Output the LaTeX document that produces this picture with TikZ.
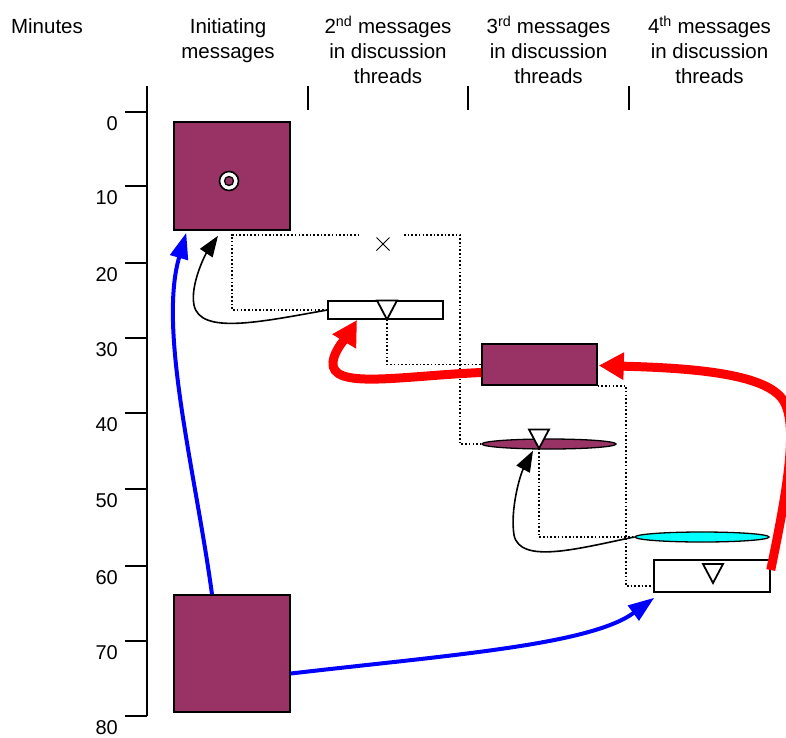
\documentclass[tikz,border=0pt]{standalone}
\usepackage{fontspec}
\setmainfont{Liberation Sans}
\usetikzlibrary{arrows.meta,shapes.geometric,shapes.misc,calc}
\definecolor{plum}{HTML}{993366}
\definecolor{aqua}{RGB}{0,255,255}
\definecolor{pureblue}{RGB}{0,0,255}
\definecolor{purered}{RGB}{255,0,0}
\begin{document}
\begin{tikzpicture}[x=1pt,y=-1pt,
  pbox/.style={draw=black,fill=plum,line width=1.5pt,inner sep=0pt,rectangle},
  wbox/.style={draw=black,fill=white,line width=1.5pt,inner sep=0pt,rectangle},
  pell/.style={draw=black,fill=plum,line width=1.3pt,inner sep=0pt,ellipse},
  cell/.style={draw=black,fill=aqua,line width=1.3pt,inner sep=0pt,ellipse},
  dotline/.style={line width=1.6pt,dash pattern=on 1.6pt off 2.1pt},
  hdr/.style={font=\fontsize{20.5}{25}\selectfont,align=center,anchor=north,inner sep=0pt},
  axisline/.style={line width=1.2pt},
  num/.style={font=\fontsize{20}{24}\selectfont,anchor=east,inner sep=0pt},
  bluearrow/.style={draw=pureblue,line width=4pt,-{Triangle[length=26pt,width=18pt]}},
  redarrow/.style={draw=purered,line width=9pt,-{Triangle[length=25pt,width=26pt]}},
  blackarrow/.style={draw=black,line width=1.6pt,-{Triangle[length=21pt,width=15pt]}},
  tri/.pic={\draw[fill=white,line width=1.8pt,line join=miter] (-10,-9.5) -- (10,-9.5) -- (0,9.5) -- cycle;}
]
\useasboundingbox (0,0) rectangle (786,737);

% header
\node[hdr] (h0) at (47,15.5) {\strut Minutes};
\node[hdr] (h1) at (228,15.5) {\strut Initiating\\messages};
\node[hdr] (h2) at (388,15.5) {\strut 2\textsuperscript{nd} messages\\in discussion\\threads};
\node[hdr] (h3) at (548.5,15.5) {\strut 3\textsuperscript{rd} messages\\in discussion\\threads};
\node[hdr] (h4) at (709.5,15.5) {\strut 4\textsuperscript{th} messages\\in discussion\\threads};
\foreach \x in {308,468,629} \draw[axisline] (\x,86) -- (\x,110);

% axis
\draw[axisline] (147,86) -- (147,716);
\foreach \y/\l in {112/0,186/10,263/20,338/30,413/40,489/50,566/60,641/70,716/80} {
  \draw[axisline] (125,\y) -- (147,\y);
  \node[num] (n\l) at (118,\y+11.5) {\l};
}

% messages
\node[pbox,minimum width=116pt,minimum height=108pt] (A) at (232,176) {};
\node[pbox,minimum width=116pt,minimum height=117pt] (B) at (232,653.5) {};
\node[wbox,minimum width=115pt,minimum height=18pt] (C) at (385.5,310) {};
\node[pbox,minimum width=115pt,minimum height=41pt] (D) at (539.5,364.5) {};
\node[pell,minimum width=134pt,minimum height=10pt] (E) at (549,444) {};
\node[cell,minimum width=134pt,minimum height=10pt] (G) at (702,537) {};
\node[wbox,minimum width=116pt,minimum height=32pt] (F) at (712,576) {};

% symbols
\node[circle,draw,fill=white,line width=1.6pt,minimum size=19pt,inner sep=0pt] (S) at (229,181) {};
\node[circle,draw,fill=plum,line width=1.3pt,minimum size=9pt,inner sep=0pt] (S2) at (S) {};
\coordinate (T1) at (387,310);
\coordinate (T1tip) at (387,319.5);
\coordinate (T2) at (539,439);
\coordinate (T2tip) at (539,448.5);
\coordinate (T3) at (713,573.5);
\node[draw,cross out,line width=1pt,minimum size=12pt,inner sep=0pt] (X) at (383,244) {};

% dotted links
\draw[dotline] (C.west) -| (232,235) -- (360,235);
\draw[dotline] (404,235) -| (460,444) -- (E.west);
\draw[dotline] (T1tip) |- (D.west);
\draw[dotline] (D.south east) -| (626,586) -- (654,586);
\draw[dotline] (T2tip) |- (G.west);

\pic at (T1) {tri};
\pic at (T2) {tri};
\pic at (T3) {tri};

% arrows
\draw[bluearrow] ($(B.north)+(-20,0)$) .. controls (195,470) and (158,330) .. ($(A.south west)+(13,2)$);
\draw[bluearrow] ($(B.east)+(0,20)$) .. controls (450,655) and (590,645) .. ($(F.south west)+(1,5)$);
\draw[blackarrow] (C.west) .. controls (260,322) and (200,335) .. (194,305) .. controls (190,285) and (205,255) .. ($(A.south)+(-14,5)$);
\draw[blackarrow] (G.west) .. controls (580,548) and (520,565) .. (514,535) .. controls (510,510) and (520,475) .. ($(E.south)+(-16,1)$);
\draw[redarrow] ($(D.west)+(0,8)$) .. controls (400,376) and (330,390) .. (333,362) .. controls (334,350) and (348,335) .. (357,320);
\draw[redarrow] ($(F.east)+(0,-6)$) .. controls (785,500) and (800,425) .. (783,400) .. controls (765,373) and (690,368) .. ($(D.east)+(1,1)$);
\end{tikzpicture}
\end{document}
